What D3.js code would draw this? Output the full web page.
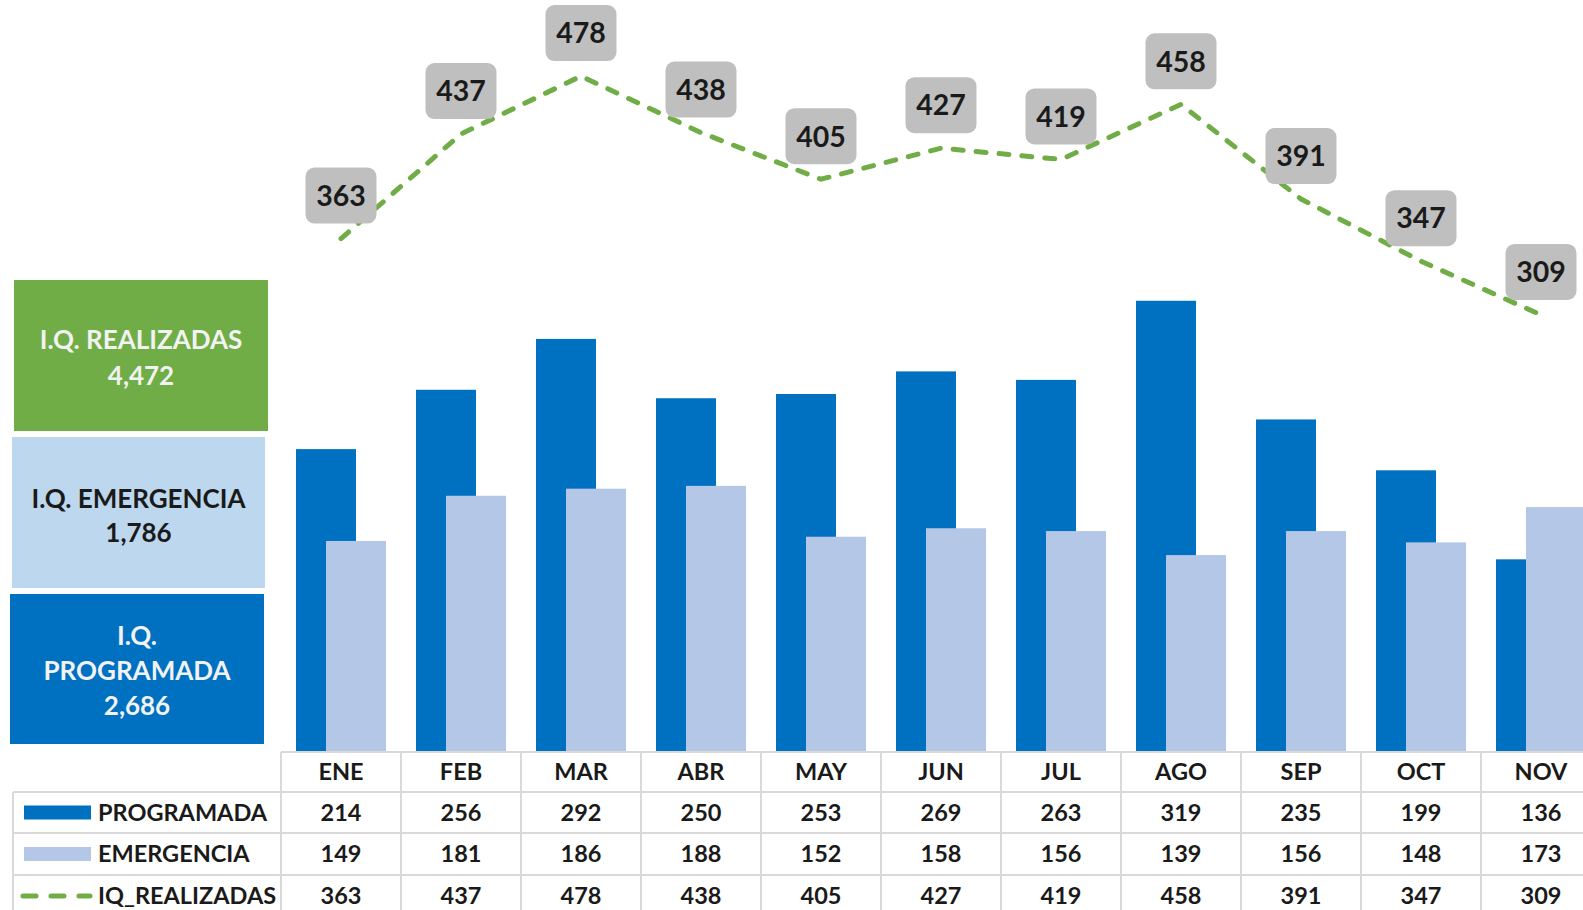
<!DOCTYPE html>
<meta charset="utf-8">
<style>
body { margin: 0; background: #fff; }
text { font-family: Lato, "Open Sans", sans-serif; font-weight: bold; }
.grid { stroke: #d9d9d9; stroke-width: 2px; }
</style>
<body>
<script src="https://d3js.org/d3.v7.min.js"></script>
<script>

// data
var months = ["ENE", "FEB", "MAR", "ABR", "MAY", "JUN", "JUL", "AGO", "SEP", "OCT", "NOV"];
var programada = [214, 256, 292, 250, 253, 269, 263, 319, 235, 199, 136];
var emergencia = [149, 181, 186, 188, 152, 158, 156, 139, 156, 148, 173];
var realizadas = [363, 437, 478, 438, 405, 427, 419, 458, 391, 347, 309];

var width = 1583, height = 910;

var svg = d3.select("body").append("svg")
    .attr("width", width)
    .attr("height", height);

// scales: one column per month in the table, same y for bars and line
var x = d3.scaleBand()
    .domain(months)
    .range([281, 281 + 120 * months.length]);
var y = d3.scaleLinear()
    .domain([0, 500])
    .range([751.5, 751.5 - 500 * 1.413]);

function cx(m) { return x(m) + x.bandwidth() / 2; }

// bars
svg.selectAll(".prog")
    .data(months)
  .enter().append("rect")
    .attr("x", function(d) { return cx(d) - 45; })
    .attr("y", function(d, i) { return y(programada[i]); })
    .attr("width", 60)
    .attr("height", function(d, i) { return y(0) - y(programada[i]); })
    .attr("fill", "#0070c0");

svg.selectAll(".emer")
    .data(months)
  .enter().append("rect")
    .attr("x", function(d) { return cx(d) - 15; })
    .attr("y", function(d, i) { return y(emergencia[i]); })
    .attr("width", 60)
    .attr("height", function(d, i) { return y(0) - y(emergencia[i]); })
    .attr("fill", "#b4c7e7");

// dashed line of realizadas
var line = d3.line()
    .x(function(d, i) { return cx(months[i]); })
    .y(function(d) { return y(d); });

svg.append("path")
    .datum(realizadas)
    .attr("d", line)
    .attr("fill", "none")
    .attr("stroke", "#70ad47")
    .attr("stroke-width", 5)
    .attr("stroke-linecap", "round")
    .attr("stroke-dasharray", "10,13");

// value labels above the line
var lab = svg.selectAll(".lab")
    .data(realizadas)
  .enter().append("g")
    .attr("transform", function(d, i) {
      return "translate(" + cx(months[i]) + "," + (y(d) - 43) + ")";
    });
lab.append("rect")
    .attr("x", -35.5).attr("y", -28)
    .attr("width", 71).attr("height", 56)
    .attr("rx", 9)
    .attr("fill", "#bfbfbf");
lab.append("text")
    .attr("text-anchor", "middle")
    .attr("dy", "0.36em")
    .attr("font-size", 28.5)
    .attr("fill", "#1a1a1a")
    .text(function(d) { return d; });

// summary boxes on the left
var fmt = d3.format(",");
var boxes = [
  {x: 14, y: 280, w: 254, h: 151, fill: "#70ad47", color: "#f2f2f2",
   lines: ["I.Q. REALIZADAS", fmt(d3.sum(realizadas))], ly: [340, 376]},
  {x: 12, y: 437, w: 253, h: 151, fill: "#bdd7ee", color: "#1a1a1a",
   lines: ["I.Q. EMERGENCIA", fmt(d3.sum(emergencia))], ly: [499, 533]},
  {x: 10, y: 594, w: 254, h: 150, fill: "#0070c0", color: "#f2f2f2",
   lines: ["I.Q.", "PROGRAMADA", fmt(d3.sum(programada))], ly: [636, 671, 706]}
];
boxes.forEach(function(b) {
  svg.append("rect")
      .attr("x", b.x).attr("y", b.y)
      .attr("width", b.w).attr("height", b.h)
      .attr("fill", b.fill);
  b.lines.forEach(function(t, j) {
    svg.append("text")
        .attr("x", b.x + b.w / 2)
        .attr("y", b.ly[j])
        .attr("dy", "0.36em")
        .attr("text-anchor", "middle")
        .attr("font-size", 26)
        .attr("fill", b.color)
        .text(t);
  });
});

// data table under the chart
var rowTop = [752, 792, 833, 875, 917];
var tableRight = 281 + 120 * months.length;
var rows = [
  {name: "PROGRAMADA", values: programada, swatch: "bar", color: "#0070c0"},
  {name: "EMERGENCIA", values: emergencia, swatch: "bar", color: "#b4c7e7"},
  {name: "IQ_REALIZADAS", values: realizadas, swatch: "line", color: "#70ad47"}
];

// grid lines
svg.append("line").attr("class", "grid")
    .attr("x1", 281).attr("x2", tableRight)
    .attr("y1", rowTop[0]).attr("y2", rowTop[0]);
rowTop.slice(1).forEach(function(yy) {
  svg.append("line").attr("class", "grid")
      .attr("x1", 13).attr("x2", tableRight)
      .attr("y1", yy).attr("y2", yy);
});
svg.append("line").attr("class", "grid")
    .attr("x1", 13).attr("x2", 13)
    .attr("y1", rowTop[1]).attr("y2", height);
months.forEach(function(m) {
  svg.append("line").attr("class", "grid")
      .attr("x1", x(m)).attr("x2", x(m))
      .attr("y1", rowTop[0]).attr("y2", height);
});

// month headers
svg.selectAll(".mh")
    .data(months)
  .enter().append("text")
    .attr("x", function(d) { return cx(d); })
    .attr("y", (rowTop[0] + rowTop[1]) / 2)
    .attr("dy", "0.36em")
    .attr("text-anchor", "middle")
    .attr("font-size", 23.5)
    .attr("fill", "#1a1a1a")
    .text(function(d) { return d; });

rows.forEach(function(r, k) {
  var cy = (rowTop[k + 1] + rowTop[k + 2]) / 2;
  if (r.swatch == "bar") {
    svg.append("rect")
        .attr("x", 24).attr("y", cy - 7)
        .attr("width", 67).attr("height", 14)
        .attr("fill", r.color);
  } else {
    svg.append("line")
        .attr("x1", 23).attr("x2", 90)
        .attr("y1", cy).attr("y2", cy)
        .attr("stroke", r.color)
        .attr("stroke-width", 5)
        .attr("stroke-linecap", "round")
        .attr("stroke-dasharray", "13,15");
  }
  svg.append("text")
      .attr("x", 98)
      .attr("y", cy)
      .attr("dy", "0.36em")
      .attr("font-size", 23.5)
      .attr("fill", "#1a1a1a")
      .text(r.name);
  svg.selectAll(".v" + k)
      .data(r.values)
    .enter().append("text")
      .attr("x", function(d, i) { return cx(months[i]); })
      .attr("y", cy)
      .attr("dy", "0.36em")
      .attr("text-anchor", "middle")
      .attr("font-size", 23.5)
      .attr("fill", "#1a1a1a")
      .text(function(d) { return d; });
});

</script>
</body>
